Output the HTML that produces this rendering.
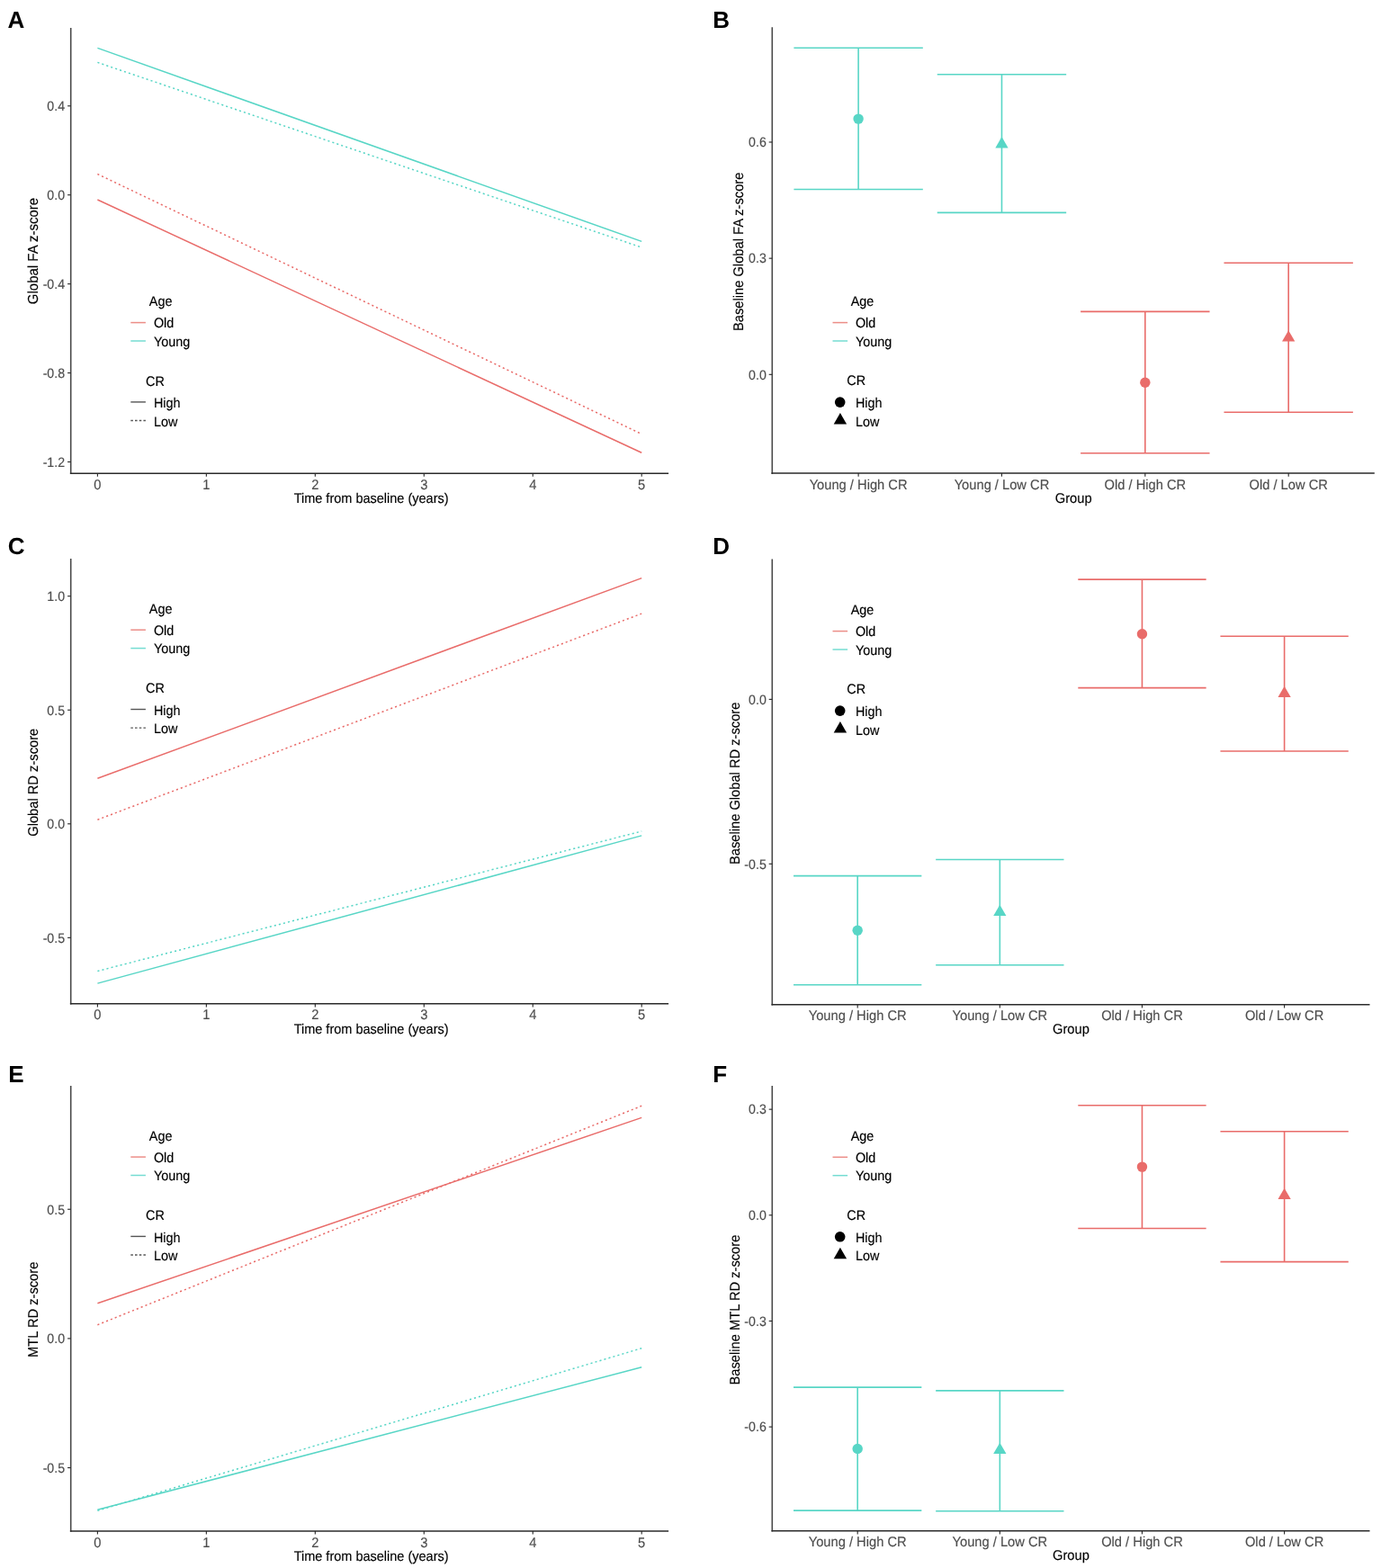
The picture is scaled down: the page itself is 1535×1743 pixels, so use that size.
<!DOCTYPE html>
<html><head><meta charset="utf-8"><title>Figure</title>
<style>
html,body{margin:0;padding:0;background:#fff;}
body{width:1535px;height:1743px;overflow:hidden;}
svg{display:block;}
text{font-family:'Liberation Sans', Arial, Helvetica, sans-serif;text-rendering:geometricPrecision;}
</style></head>
<body>
<svg width="1535" height="1743" viewBox="0 0 1535 1743">
<rect width="1535" height="1743" fill="#fff"/>
<text x="8.50" y="31.10" font-size="26" fill="#000" font-weight="bold">A</text>
<text x="792.30" y="30.90" font-size="26" fill="#000" font-weight="bold">B</text>
<text x="8.80" y="615.70" font-size="26" fill="#000" font-weight="bold">C</text>
<text x="792.30" y="615.60" font-size="26" fill="#000" font-weight="bold">D</text>
<text x="9.30" y="1203.30" font-size="26" fill="#000" font-weight="bold">E</text>
<text x="792.30" y="1202.80" font-size="26" fill="#000" font-weight="bold">F</text>
<line x1="78.70" y1="31.00" x2="78.70" y2="527.00" stroke="#4a4a4a" stroke-width="1.6" stroke-linecap="butt"/>
<line x1="77.90" y1="526.20" x2="743.10" y2="526.20" stroke="#2a2a2a" stroke-width="1.5" stroke-linecap="butt"/>
<line x1="75.10" y1="117.78" x2="78.70" y2="117.78" stroke="#262626" stroke-width="1.1" stroke-linecap="butt"/>
<text transform="translate(72.10 123.08) scale(1 1.06)" font-size="14.2" fill="#4d4d4d" stroke="#4d4d4d" stroke-width="0.15" text-anchor="end">0.4</text>
<line x1="75.10" y1="216.70" x2="78.70" y2="216.70" stroke="#262626" stroke-width="1.1" stroke-linecap="butt"/>
<text transform="translate(72.10 222.00) scale(1 1.06)" font-size="14.2" fill="#4d4d4d" stroke="#4d4d4d" stroke-width="0.15" text-anchor="end">0.0</text>
<line x1="75.10" y1="315.62" x2="78.70" y2="315.62" stroke="#262626" stroke-width="1.1" stroke-linecap="butt"/>
<text transform="translate(72.10 320.92) scale(1 1.06)" font-size="14.2" fill="#4d4d4d" stroke="#4d4d4d" stroke-width="0.15" text-anchor="end">-0.4</text>
<line x1="75.10" y1="414.54" x2="78.70" y2="414.54" stroke="#262626" stroke-width="1.1" stroke-linecap="butt"/>
<text transform="translate(72.10 419.84) scale(1 1.06)" font-size="14.2" fill="#4d4d4d" stroke="#4d4d4d" stroke-width="0.15" text-anchor="end">-0.8</text>
<line x1="75.10" y1="513.46" x2="78.70" y2="513.46" stroke="#262626" stroke-width="1.1" stroke-linecap="butt"/>
<text transform="translate(72.10 518.76) scale(1 1.06)" font-size="14.2" fill="#4d4d4d" stroke="#4d4d4d" stroke-width="0.15" text-anchor="end">-1.2</text>
<line x1="108.40" y1="526.20" x2="108.40" y2="529.80" stroke="#262626" stroke-width="1.1" stroke-linecap="butt"/>
<text transform="translate(108.40 543.80) scale(1 1.06)" font-size="14.7" fill="#4d4d4d" stroke="#4d4d4d" stroke-width="0.15" text-anchor="middle">0</text>
<line x1="229.36" y1="526.20" x2="229.36" y2="529.80" stroke="#262626" stroke-width="1.1" stroke-linecap="butt"/>
<text transform="translate(229.36 543.80) scale(1 1.06)" font-size="14.7" fill="#4d4d4d" stroke="#4d4d4d" stroke-width="0.15" text-anchor="middle">1</text>
<line x1="350.32" y1="526.20" x2="350.32" y2="529.80" stroke="#262626" stroke-width="1.1" stroke-linecap="butt"/>
<text transform="translate(350.32 543.80) scale(1 1.06)" font-size="14.7" fill="#4d4d4d" stroke="#4d4d4d" stroke-width="0.15" text-anchor="middle">2</text>
<line x1="471.28" y1="526.20" x2="471.28" y2="529.80" stroke="#262626" stroke-width="1.1" stroke-linecap="butt"/>
<text transform="translate(471.28 543.80) scale(1 1.06)" font-size="14.7" fill="#4d4d4d" stroke="#4d4d4d" stroke-width="0.15" text-anchor="middle">3</text>
<line x1="592.24" y1="526.20" x2="592.24" y2="529.80" stroke="#262626" stroke-width="1.1" stroke-linecap="butt"/>
<text transform="translate(592.24 543.80) scale(1 1.06)" font-size="14.7" fill="#4d4d4d" stroke="#4d4d4d" stroke-width="0.15" text-anchor="middle">4</text>
<line x1="713.20" y1="526.20" x2="713.20" y2="529.80" stroke="#262626" stroke-width="1.1" stroke-linecap="butt"/>
<text transform="translate(713.20 543.80) scale(1 1.06)" font-size="14.7" fill="#4d4d4d" stroke="#4d4d4d" stroke-width="0.15" text-anchor="middle">5</text>
<text transform="translate(412.60 559.00) scale(1 1.06)" font-size="14.5" fill="#000" stroke="#000" stroke-width="0.15" text-anchor="middle">Time from baseline (years)</text>
<text transform="translate(41.50 279.00) rotate(-90) scale(1 1.06)" font-size="15.0" fill="#000" stroke="#000" stroke-width="0.15" text-anchor="middle">Global FA z-score</text>
<line x1="108.40" y1="222.00" x2="713.20" y2="503.30" stroke="#e96c6a" stroke-width="1.5" stroke-linecap="butt"/>
<line x1="108.40" y1="193.50" x2="713.20" y2="482.50" stroke="#e96c6a" stroke-width="1.5" stroke-linecap="butt" stroke-dasharray="2.1 3.1"/>
<line x1="108.40" y1="53.40" x2="713.20" y2="268.40" stroke="#58d6c6" stroke-width="1.5" stroke-linecap="butt"/>
<line x1="108.40" y1="69.40" x2="713.20" y2="275.00" stroke="#58d6c6" stroke-width="1.5" stroke-linecap="butt" stroke-dasharray="2.1 3.1"/>
<text transform="translate(165.80 340.00) scale(1 1.06)" font-size="14.4" fill="#000" stroke="#000" stroke-width="0.15">Age</text>
<line x1="145.30" y1="358.60" x2="161.90" y2="358.60" stroke="#ec8e88" stroke-width="1.5" stroke-linecap="butt"/>
<line x1="145.30" y1="379.00" x2="161.90" y2="379.00" stroke="#74dcd2" stroke-width="1.5" stroke-linecap="butt"/>
<text transform="translate(170.90 364.20) scale(1 1.06)" font-size="14.4" fill="#000" stroke="#000" stroke-width="0.15">Old</text>
<text transform="translate(170.90 384.70) scale(1 1.06)" font-size="14.4" fill="#000" stroke="#000" stroke-width="0.15">Young</text>
<text transform="translate(162.10 428.70) scale(1 1.06)" font-size="14.4" fill="#000" stroke="#000" stroke-width="0.15">CR</text>
<line x1="145.30" y1="446.90" x2="161.90" y2="446.90" stroke="#555" stroke-width="1.4" stroke-linecap="butt"/>
<line x1="145.30" y1="467.50" x2="161.90" y2="467.50" stroke="#555" stroke-width="1.4" stroke-linecap="butt" stroke-dasharray="2.6 2.1"/>
<text transform="translate(170.90 453.10) scale(1 1.06)" font-size="14.4" fill="#000" stroke="#000" stroke-width="0.15">High</text>
<text transform="translate(170.90 473.70) scale(1 1.06)" font-size="14.4" fill="#000" stroke="#000" stroke-width="0.15">Low</text>
<line x1="78.70" y1="621.00" x2="78.70" y2="1116.60" stroke="#4a4a4a" stroke-width="1.6" stroke-linecap="butt"/>
<line x1="77.90" y1="1115.80" x2="743.10" y2="1115.80" stroke="#2a2a2a" stroke-width="1.5" stroke-linecap="butt"/>
<line x1="75.10" y1="662.70" x2="78.70" y2="662.70" stroke="#262626" stroke-width="1.1" stroke-linecap="butt"/>
<text transform="translate(72.10 668.00) scale(1 1.06)" font-size="14.2" fill="#4d4d4d" stroke="#4d4d4d" stroke-width="0.15" text-anchor="end">1.0</text>
<line x1="75.10" y1="789.25" x2="78.70" y2="789.25" stroke="#262626" stroke-width="1.1" stroke-linecap="butt"/>
<text transform="translate(72.10 794.55) scale(1 1.06)" font-size="14.2" fill="#4d4d4d" stroke="#4d4d4d" stroke-width="0.15" text-anchor="end">0.5</text>
<line x1="75.10" y1="915.80" x2="78.70" y2="915.80" stroke="#262626" stroke-width="1.1" stroke-linecap="butt"/>
<text transform="translate(72.10 921.10) scale(1 1.06)" font-size="14.2" fill="#4d4d4d" stroke="#4d4d4d" stroke-width="0.15" text-anchor="end">0.0</text>
<line x1="75.10" y1="1042.35" x2="78.70" y2="1042.35" stroke="#262626" stroke-width="1.1" stroke-linecap="butt"/>
<text transform="translate(72.10 1047.65) scale(1 1.06)" font-size="14.2" fill="#4d4d4d" stroke="#4d4d4d" stroke-width="0.15" text-anchor="end">-0.5</text>
<line x1="108.40" y1="1115.80" x2="108.40" y2="1119.40" stroke="#262626" stroke-width="1.1" stroke-linecap="butt"/>
<text transform="translate(108.40 1133.40) scale(1 1.06)" font-size="14.7" fill="#4d4d4d" stroke="#4d4d4d" stroke-width="0.15" text-anchor="middle">0</text>
<line x1="229.36" y1="1115.80" x2="229.36" y2="1119.40" stroke="#262626" stroke-width="1.1" stroke-linecap="butt"/>
<text transform="translate(229.36 1133.40) scale(1 1.06)" font-size="14.7" fill="#4d4d4d" stroke="#4d4d4d" stroke-width="0.15" text-anchor="middle">1</text>
<line x1="350.32" y1="1115.80" x2="350.32" y2="1119.40" stroke="#262626" stroke-width="1.1" stroke-linecap="butt"/>
<text transform="translate(350.32 1133.40) scale(1 1.06)" font-size="14.7" fill="#4d4d4d" stroke="#4d4d4d" stroke-width="0.15" text-anchor="middle">2</text>
<line x1="471.28" y1="1115.80" x2="471.28" y2="1119.40" stroke="#262626" stroke-width="1.1" stroke-linecap="butt"/>
<text transform="translate(471.28 1133.40) scale(1 1.06)" font-size="14.7" fill="#4d4d4d" stroke="#4d4d4d" stroke-width="0.15" text-anchor="middle">3</text>
<line x1="592.24" y1="1115.80" x2="592.24" y2="1119.40" stroke="#262626" stroke-width="1.1" stroke-linecap="butt"/>
<text transform="translate(592.24 1133.40) scale(1 1.06)" font-size="14.7" fill="#4d4d4d" stroke="#4d4d4d" stroke-width="0.15" text-anchor="middle">4</text>
<line x1="713.20" y1="1115.80" x2="713.20" y2="1119.40" stroke="#262626" stroke-width="1.1" stroke-linecap="butt"/>
<text transform="translate(713.20 1133.40) scale(1 1.06)" font-size="14.7" fill="#4d4d4d" stroke="#4d4d4d" stroke-width="0.15" text-anchor="middle">5</text>
<text transform="translate(412.60 1148.60) scale(1 1.06)" font-size="14.5" fill="#000" stroke="#000" stroke-width="0.15" text-anchor="middle">Time from baseline (years)</text>
<text transform="translate(41.50 869.80) rotate(-90) scale(1 1.06)" font-size="14.7" fill="#000" stroke="#000" stroke-width="0.15" text-anchor="middle">Global RD z-score</text>
<line x1="108.40" y1="865.30" x2="713.20" y2="642.60" stroke="#e96c6a" stroke-width="1.5" stroke-linecap="butt"/>
<line x1="108.40" y1="911.20" x2="713.20" y2="682.10" stroke="#e96c6a" stroke-width="1.5" stroke-linecap="butt" stroke-dasharray="2.1 3.1"/>
<line x1="108.40" y1="1093.10" x2="713.20" y2="928.90" stroke="#58d6c6" stroke-width="1.5" stroke-linecap="butt"/>
<line x1="108.40" y1="1079.50" x2="713.20" y2="924.00" stroke="#58d6c6" stroke-width="1.5" stroke-linecap="butt" stroke-dasharray="2.1 3.1"/>
<text transform="translate(165.80 681.60) scale(1 1.06)" font-size="14.4" fill="#000" stroke="#000" stroke-width="0.15">Age</text>
<line x1="145.30" y1="700.20" x2="161.90" y2="700.20" stroke="#ec8e88" stroke-width="1.5" stroke-linecap="butt"/>
<line x1="145.30" y1="720.60" x2="161.90" y2="720.60" stroke="#74dcd2" stroke-width="1.5" stroke-linecap="butt"/>
<text transform="translate(170.90 705.80) scale(1 1.06)" font-size="14.4" fill="#000" stroke="#000" stroke-width="0.15">Old</text>
<text transform="translate(170.90 726.30) scale(1 1.06)" font-size="14.4" fill="#000" stroke="#000" stroke-width="0.15">Young</text>
<text transform="translate(162.10 770.30) scale(1 1.06)" font-size="14.4" fill="#000" stroke="#000" stroke-width="0.15">CR</text>
<line x1="145.30" y1="788.50" x2="161.90" y2="788.50" stroke="#555" stroke-width="1.4" stroke-linecap="butt"/>
<line x1="145.30" y1="809.10" x2="161.90" y2="809.10" stroke="#555" stroke-width="1.4" stroke-linecap="butt" stroke-dasharray="2.6 2.1"/>
<text transform="translate(170.90 794.70) scale(1 1.06)" font-size="14.4" fill="#000" stroke="#000" stroke-width="0.15">High</text>
<text transform="translate(170.90 815.30) scale(1 1.06)" font-size="14.4" fill="#000" stroke="#000" stroke-width="0.15">Low</text>
<line x1="78.70" y1="1206.90" x2="78.70" y2="1702.80" stroke="#4a4a4a" stroke-width="1.6" stroke-linecap="butt"/>
<line x1="77.90" y1="1702.00" x2="743.10" y2="1702.00" stroke="#2a2a2a" stroke-width="1.5" stroke-linecap="butt"/>
<line x1="75.10" y1="1344.25" x2="78.70" y2="1344.25" stroke="#262626" stroke-width="1.1" stroke-linecap="butt"/>
<text transform="translate(72.10 1349.55) scale(1 1.06)" font-size="14.2" fill="#4d4d4d" stroke="#4d4d4d" stroke-width="0.15" text-anchor="end">0.5</text>
<line x1="75.10" y1="1487.90" x2="78.70" y2="1487.90" stroke="#262626" stroke-width="1.1" stroke-linecap="butt"/>
<text transform="translate(72.10 1493.20) scale(1 1.06)" font-size="14.2" fill="#4d4d4d" stroke="#4d4d4d" stroke-width="0.15" text-anchor="end">0.0</text>
<line x1="75.10" y1="1631.55" x2="78.70" y2="1631.55" stroke="#262626" stroke-width="1.1" stroke-linecap="butt"/>
<text transform="translate(72.10 1636.85) scale(1 1.06)" font-size="14.2" fill="#4d4d4d" stroke="#4d4d4d" stroke-width="0.15" text-anchor="end">-0.5</text>
<line x1="108.40" y1="1702.00" x2="108.40" y2="1705.60" stroke="#262626" stroke-width="1.1" stroke-linecap="butt"/>
<text transform="translate(108.40 1719.60) scale(1 1.06)" font-size="14.7" fill="#4d4d4d" stroke="#4d4d4d" stroke-width="0.15" text-anchor="middle">0</text>
<line x1="229.36" y1="1702.00" x2="229.36" y2="1705.60" stroke="#262626" stroke-width="1.1" stroke-linecap="butt"/>
<text transform="translate(229.36 1719.60) scale(1 1.06)" font-size="14.7" fill="#4d4d4d" stroke="#4d4d4d" stroke-width="0.15" text-anchor="middle">1</text>
<line x1="350.32" y1="1702.00" x2="350.32" y2="1705.60" stroke="#262626" stroke-width="1.1" stroke-linecap="butt"/>
<text transform="translate(350.32 1719.60) scale(1 1.06)" font-size="14.7" fill="#4d4d4d" stroke="#4d4d4d" stroke-width="0.15" text-anchor="middle">2</text>
<line x1="471.28" y1="1702.00" x2="471.28" y2="1705.60" stroke="#262626" stroke-width="1.1" stroke-linecap="butt"/>
<text transform="translate(471.28 1719.60) scale(1 1.06)" font-size="14.7" fill="#4d4d4d" stroke="#4d4d4d" stroke-width="0.15" text-anchor="middle">3</text>
<line x1="592.24" y1="1702.00" x2="592.24" y2="1705.60" stroke="#262626" stroke-width="1.1" stroke-linecap="butt"/>
<text transform="translate(592.24 1719.60) scale(1 1.06)" font-size="14.7" fill="#4d4d4d" stroke="#4d4d4d" stroke-width="0.15" text-anchor="middle">4</text>
<line x1="713.20" y1="1702.00" x2="713.20" y2="1705.60" stroke="#262626" stroke-width="1.1" stroke-linecap="butt"/>
<text transform="translate(713.20 1719.60) scale(1 1.06)" font-size="14.7" fill="#4d4d4d" stroke="#4d4d4d" stroke-width="0.15" text-anchor="middle">5</text>
<text transform="translate(412.60 1734.80) scale(1 1.06)" font-size="14.5" fill="#000" stroke="#000" stroke-width="0.15" text-anchor="middle">Time from baseline (years)</text>
<text transform="translate(41.50 1455.85) rotate(-90) scale(1 1.06)" font-size="14.7" fill="#000" stroke="#000" stroke-width="0.15" text-anchor="middle">MTL RD z-score</text>
<line x1="108.40" y1="1448.80" x2="713.20" y2="1242.40" stroke="#e96c6a" stroke-width="1.5" stroke-linecap="butt"/>
<line x1="108.40" y1="1472.70" x2="713.20" y2="1229.30" stroke="#e96c6a" stroke-width="1.5" stroke-linecap="butt" stroke-dasharray="2.1 3.1"/>
<line x1="108.40" y1="1678.30" x2="713.20" y2="1519.80" stroke="#58d6c6" stroke-width="1.5" stroke-linecap="butt"/>
<line x1="108.40" y1="1679.30" x2="713.20" y2="1498.70" stroke="#58d6c6" stroke-width="1.5" stroke-linecap="butt" stroke-dasharray="2.1 3.1"/>
<text transform="translate(165.80 1267.50) scale(1 1.06)" font-size="14.4" fill="#000" stroke="#000" stroke-width="0.15">Age</text>
<line x1="145.30" y1="1286.10" x2="161.90" y2="1286.10" stroke="#ec8e88" stroke-width="1.5" stroke-linecap="butt"/>
<line x1="145.30" y1="1306.50" x2="161.90" y2="1306.50" stroke="#74dcd2" stroke-width="1.5" stroke-linecap="butt"/>
<text transform="translate(170.90 1291.70) scale(1 1.06)" font-size="14.4" fill="#000" stroke="#000" stroke-width="0.15">Old</text>
<text transform="translate(170.90 1312.20) scale(1 1.06)" font-size="14.4" fill="#000" stroke="#000" stroke-width="0.15">Young</text>
<text transform="translate(162.10 1356.20) scale(1 1.06)" font-size="14.4" fill="#000" stroke="#000" stroke-width="0.15">CR</text>
<line x1="145.30" y1="1374.40" x2="161.90" y2="1374.40" stroke="#555" stroke-width="1.4" stroke-linecap="butt"/>
<line x1="145.30" y1="1395.00" x2="161.90" y2="1395.00" stroke="#555" stroke-width="1.4" stroke-linecap="butt" stroke-dasharray="2.6 2.1"/>
<text transform="translate(170.90 1380.60) scale(1 1.06)" font-size="14.4" fill="#000" stroke="#000" stroke-width="0.15">High</text>
<text transform="translate(170.90 1401.20) scale(1 1.06)" font-size="14.4" fill="#000" stroke="#000" stroke-width="0.15">Low</text>
<line x1="858.30" y1="30.30" x2="858.30" y2="526.90" stroke="#4a4a4a" stroke-width="1.6" stroke-linecap="butt"/>
<line x1="857.50" y1="526.10" x2="1527.80" y2="526.10" stroke="#2a2a2a" stroke-width="1.5" stroke-linecap="butt"/>
<line x1="854.70" y1="158.00" x2="858.30" y2="158.00" stroke="#262626" stroke-width="1.1" stroke-linecap="butt"/>
<text transform="translate(851.80 163.30) scale(1 1.06)" font-size="14.2" fill="#4d4d4d" stroke="#4d4d4d" stroke-width="0.15" text-anchor="end">0.6</text>
<line x1="854.70" y1="287.15" x2="858.30" y2="287.15" stroke="#262626" stroke-width="1.1" stroke-linecap="butt"/>
<text transform="translate(851.80 292.45) scale(1 1.06)" font-size="14.2" fill="#4d4d4d" stroke="#4d4d4d" stroke-width="0.15" text-anchor="end">0.3</text>
<line x1="854.70" y1="416.30" x2="858.30" y2="416.30" stroke="#262626" stroke-width="1.1" stroke-linecap="butt"/>
<text transform="translate(851.80 421.60) scale(1 1.06)" font-size="14.2" fill="#4d4d4d" stroke="#4d4d4d" stroke-width="0.15" text-anchor="end">0.0</text>
<line x1="954.11" y1="526.10" x2="954.11" y2="529.70" stroke="#262626" stroke-width="1.1" stroke-linecap="butt"/>
<text transform="translate(954.11 543.70) scale(1 1.06)" font-size="14.7" fill="#4d4d4d" stroke="#4d4d4d" stroke-width="0.15" text-anchor="middle">Young / High CR</text>
<line x1="1113.47" y1="526.10" x2="1113.47" y2="529.70" stroke="#262626" stroke-width="1.1" stroke-linecap="butt"/>
<text transform="translate(1113.47 543.70) scale(1 1.06)" font-size="14.7" fill="#4d4d4d" stroke="#4d4d4d" stroke-width="0.15" text-anchor="middle">Young / Low CR</text>
<line x1="1272.83" y1="526.10" x2="1272.83" y2="529.70" stroke="#262626" stroke-width="1.1" stroke-linecap="butt"/>
<text transform="translate(1272.83 543.70) scale(1 1.06)" font-size="14.7" fill="#4d4d4d" stroke="#4d4d4d" stroke-width="0.15" text-anchor="middle">Old / High CR</text>
<line x1="1432.19" y1="526.10" x2="1432.19" y2="529.70" stroke="#262626" stroke-width="1.1" stroke-linecap="butt"/>
<text transform="translate(1432.19 543.70) scale(1 1.06)" font-size="14.7" fill="#4d4d4d" stroke="#4d4d4d" stroke-width="0.15" text-anchor="middle">Old / Low CR</text>
<text transform="translate(1193.15 558.60) scale(1 1.06)" font-size="14.7" fill="#000" stroke="#000" stroke-width="0.15" text-anchor="middle">Group</text>
<text transform="translate(825.80 279.80) rotate(-90) scale(1 1.06)" font-size="14.7" fill="#000" stroke="#000" stroke-width="0.15" text-anchor="middle">Baseline Global FA z-score</text>
<line x1="954.11" y1="53.20" x2="954.11" y2="210.50" stroke="#58d6c6" stroke-width="1.6" stroke-linecap="butt"/>
<line x1="882.40" y1="53.20" x2="1025.82" y2="53.20" stroke="#58d6c6" stroke-width="1.6" stroke-linecap="butt"/>
<line x1="882.40" y1="210.50" x2="1025.82" y2="210.50" stroke="#58d6c6" stroke-width="1.6" stroke-linecap="butt"/>
<circle cx="954.11" cy="132.10" r="5.7" fill="#58d6c6"/>
<line x1="1113.47" y1="82.70" x2="1113.47" y2="236.40" stroke="#58d6c6" stroke-width="1.6" stroke-linecap="butt"/>
<line x1="1041.76" y1="82.70" x2="1185.18" y2="82.70" stroke="#58d6c6" stroke-width="1.6" stroke-linecap="butt"/>
<line x1="1041.76" y1="236.40" x2="1185.18" y2="236.40" stroke="#58d6c6" stroke-width="1.6" stroke-linecap="butt"/>
<polygon points="1113.47,152.05 1120.62,164.43 1106.33,164.43" fill="#58d6c6"/>
<line x1="1272.83" y1="346.40" x2="1272.83" y2="503.70" stroke="#e96c6a" stroke-width="1.6" stroke-linecap="butt"/>
<line x1="1201.12" y1="346.40" x2="1344.54" y2="346.40" stroke="#e96c6a" stroke-width="1.6" stroke-linecap="butt"/>
<line x1="1201.12" y1="503.70" x2="1344.54" y2="503.70" stroke="#e96c6a" stroke-width="1.6" stroke-linecap="butt"/>
<circle cx="1272.83" cy="425.20" r="5.7" fill="#e96c6a"/>
<line x1="1432.19" y1="292.20" x2="1432.19" y2="458.30" stroke="#e96c6a" stroke-width="1.6" stroke-linecap="butt"/>
<line x1="1360.48" y1="292.20" x2="1503.90" y2="292.20" stroke="#e96c6a" stroke-width="1.6" stroke-linecap="butt"/>
<line x1="1360.48" y1="458.30" x2="1503.90" y2="458.30" stroke="#e96c6a" stroke-width="1.6" stroke-linecap="butt"/>
<polygon points="1432.19,367.25 1439.33,379.62 1425.04,379.62" fill="#e96c6a"/>
<text transform="translate(945.70 340.00) scale(1 1.06)" font-size="14.4" fill="#000" stroke="#000" stroke-width="0.15">Age</text>
<line x1="925.50" y1="358.60" x2="942.10" y2="358.60" stroke="#ec8e88" stroke-width="1.5" stroke-linecap="butt"/>
<line x1="925.50" y1="379.00" x2="942.10" y2="379.00" stroke="#74dcd2" stroke-width="1.5" stroke-linecap="butt"/>
<text transform="translate(950.90 364.20) scale(1 1.06)" font-size="14.4" fill="#000" stroke="#000" stroke-width="0.15">Old</text>
<text transform="translate(950.90 384.70) scale(1 1.06)" font-size="14.4" fill="#000" stroke="#000" stroke-width="0.15">Young</text>
<text transform="translate(941.30 428.20) scale(1 1.06)" font-size="14.4" fill="#000" stroke="#000" stroke-width="0.15">CR</text>
<circle cx="933.70" cy="447.10" r="5.8" fill="#000"/>
<polygon points="933.90,459.10 941.09,471.55 926.71,471.55" fill="#000"/>
<text transform="translate(950.90 453.10) scale(1 1.06)" font-size="14.4" fill="#000" stroke="#000" stroke-width="0.15">High</text>
<text transform="translate(950.90 473.70) scale(1 1.06)" font-size="14.4" fill="#000" stroke="#000" stroke-width="0.15">Low</text>
<line x1="858.30" y1="621.60" x2="858.30" y2="1117.60" stroke="#4a4a4a" stroke-width="1.6" stroke-linecap="butt"/>
<line x1="857.50" y1="1116.80" x2="1522.50" y2="1116.80" stroke="#2a2a2a" stroke-width="1.5" stroke-linecap="butt"/>
<line x1="854.70" y1="777.40" x2="858.30" y2="777.40" stroke="#262626" stroke-width="1.1" stroke-linecap="butt"/>
<text transform="translate(851.80 782.70) scale(1 1.06)" font-size="14.2" fill="#4d4d4d" stroke="#4d4d4d" stroke-width="0.15" text-anchor="end">0.0</text>
<line x1="854.70" y1="960.30" x2="858.30" y2="960.30" stroke="#262626" stroke-width="1.1" stroke-linecap="butt"/>
<text transform="translate(851.80 965.60) scale(1 1.06)" font-size="14.2" fill="#4d4d4d" stroke="#4d4d4d" stroke-width="0.15" text-anchor="end">-0.5</text>
<line x1="953.19" y1="1116.80" x2="953.19" y2="1120.40" stroke="#262626" stroke-width="1.1" stroke-linecap="butt"/>
<text transform="translate(953.19 1134.40) scale(1 1.06)" font-size="14.7" fill="#4d4d4d" stroke="#4d4d4d" stroke-width="0.15" text-anchor="middle">Young / High CR</text>
<line x1="1111.33" y1="1116.80" x2="1111.33" y2="1120.40" stroke="#262626" stroke-width="1.1" stroke-linecap="butt"/>
<text transform="translate(1111.33 1134.40) scale(1 1.06)" font-size="14.7" fill="#4d4d4d" stroke="#4d4d4d" stroke-width="0.15" text-anchor="middle">Young / Low CR</text>
<line x1="1269.47" y1="1116.80" x2="1269.47" y2="1120.40" stroke="#262626" stroke-width="1.1" stroke-linecap="butt"/>
<text transform="translate(1269.47 1134.40) scale(1 1.06)" font-size="14.7" fill="#4d4d4d" stroke="#4d4d4d" stroke-width="0.15" text-anchor="middle">Old / High CR</text>
<line x1="1427.61" y1="1116.80" x2="1427.61" y2="1120.40" stroke="#262626" stroke-width="1.1" stroke-linecap="butt"/>
<text transform="translate(1427.61 1134.40) scale(1 1.06)" font-size="14.7" fill="#4d4d4d" stroke="#4d4d4d" stroke-width="0.15" text-anchor="middle">Old / Low CR</text>
<text transform="translate(1190.40 1149.30) scale(1 1.06)" font-size="14.7" fill="#000" stroke="#000" stroke-width="0.15" text-anchor="middle">Group</text>
<text transform="translate(822.00 870.80) rotate(-90) scale(1 1.06)" font-size="14.7" fill="#000" stroke="#000" stroke-width="0.15" text-anchor="middle">Baseline Global RD z-score</text>
<line x1="953.19" y1="973.60" x2="953.19" y2="1094.70" stroke="#58d6c6" stroke-width="1.6" stroke-linecap="butt"/>
<line x1="882.02" y1="973.60" x2="1024.35" y2="973.60" stroke="#58d6c6" stroke-width="1.6" stroke-linecap="butt"/>
<line x1="882.02" y1="1094.70" x2="1024.35" y2="1094.70" stroke="#58d6c6" stroke-width="1.6" stroke-linecap="butt"/>
<circle cx="953.19" cy="1034.20" r="5.7" fill="#58d6c6"/>
<line x1="1111.33" y1="955.50" x2="1111.33" y2="1072.80" stroke="#58d6c6" stroke-width="1.6" stroke-linecap="butt"/>
<line x1="1040.16" y1="955.50" x2="1182.49" y2="955.50" stroke="#58d6c6" stroke-width="1.6" stroke-linecap="butt"/>
<line x1="1040.16" y1="1072.80" x2="1182.49" y2="1072.80" stroke="#58d6c6" stroke-width="1.6" stroke-linecap="butt"/>
<polygon points="1111.33,1005.75 1118.47,1018.12 1104.18,1018.12" fill="#58d6c6"/>
<line x1="1269.47" y1="644.10" x2="1269.47" y2="764.60" stroke="#e96c6a" stroke-width="1.6" stroke-linecap="butt"/>
<line x1="1198.31" y1="644.10" x2="1340.64" y2="644.10" stroke="#e96c6a" stroke-width="1.6" stroke-linecap="butt"/>
<line x1="1198.31" y1="764.60" x2="1340.64" y2="764.60" stroke="#e96c6a" stroke-width="1.6" stroke-linecap="butt"/>
<circle cx="1269.47" cy="704.70" r="5.7" fill="#e96c6a"/>
<line x1="1427.61" y1="707.30" x2="1427.61" y2="835.00" stroke="#e96c6a" stroke-width="1.6" stroke-linecap="butt"/>
<line x1="1356.45" y1="707.30" x2="1498.78" y2="707.30" stroke="#e96c6a" stroke-width="1.6" stroke-linecap="butt"/>
<line x1="1356.45" y1="835.00" x2="1498.78" y2="835.00" stroke="#e96c6a" stroke-width="1.6" stroke-linecap="butt"/>
<polygon points="1427.61,762.75 1434.76,775.12 1420.47,775.12" fill="#e96c6a"/>
<text transform="translate(945.70 683.00) scale(1 1.06)" font-size="14.4" fill="#000" stroke="#000" stroke-width="0.15">Age</text>
<line x1="925.50" y1="701.60" x2="942.10" y2="701.60" stroke="#ec8e88" stroke-width="1.5" stroke-linecap="butt"/>
<line x1="925.50" y1="722.00" x2="942.10" y2="722.00" stroke="#74dcd2" stroke-width="1.5" stroke-linecap="butt"/>
<text transform="translate(950.90 707.20) scale(1 1.06)" font-size="14.4" fill="#000" stroke="#000" stroke-width="0.15">Old</text>
<text transform="translate(950.90 727.70) scale(1 1.06)" font-size="14.4" fill="#000" stroke="#000" stroke-width="0.15">Young</text>
<text transform="translate(941.30 771.20) scale(1 1.06)" font-size="14.4" fill="#000" stroke="#000" stroke-width="0.15">CR</text>
<circle cx="933.70" cy="790.10" r="5.8" fill="#000"/>
<polygon points="933.90,802.10 941.09,814.55 926.71,814.55" fill="#000"/>
<text transform="translate(950.90 796.10) scale(1 1.06)" font-size="14.4" fill="#000" stroke="#000" stroke-width="0.15">High</text>
<text transform="translate(950.90 816.70) scale(1 1.06)" font-size="14.4" fill="#000" stroke="#000" stroke-width="0.15">Low</text>
<line x1="858.30" y1="1207.10" x2="858.30" y2="1702.60" stroke="#4a4a4a" stroke-width="1.6" stroke-linecap="butt"/>
<line x1="857.50" y1="1701.80" x2="1522.50" y2="1701.80" stroke="#2a2a2a" stroke-width="1.5" stroke-linecap="butt"/>
<line x1="854.70" y1="1233.14" x2="858.30" y2="1233.14" stroke="#262626" stroke-width="1.1" stroke-linecap="butt"/>
<text transform="translate(851.80 1238.44) scale(1 1.06)" font-size="14.2" fill="#4d4d4d" stroke="#4d4d4d" stroke-width="0.15" text-anchor="end">0.3</text>
<line x1="854.70" y1="1350.80" x2="858.30" y2="1350.80" stroke="#262626" stroke-width="1.1" stroke-linecap="butt"/>
<text transform="translate(851.80 1356.10) scale(1 1.06)" font-size="14.2" fill="#4d4d4d" stroke="#4d4d4d" stroke-width="0.15" text-anchor="end">0.0</text>
<line x1="854.70" y1="1468.46" x2="858.30" y2="1468.46" stroke="#262626" stroke-width="1.1" stroke-linecap="butt"/>
<text transform="translate(851.80 1473.76) scale(1 1.06)" font-size="14.2" fill="#4d4d4d" stroke="#4d4d4d" stroke-width="0.15" text-anchor="end">-0.3</text>
<line x1="854.70" y1="1586.12" x2="858.30" y2="1586.12" stroke="#262626" stroke-width="1.1" stroke-linecap="butt"/>
<text transform="translate(851.80 1591.42) scale(1 1.06)" font-size="14.2" fill="#4d4d4d" stroke="#4d4d4d" stroke-width="0.15" text-anchor="end">-0.6</text>
<line x1="953.19" y1="1701.80" x2="953.19" y2="1705.40" stroke="#262626" stroke-width="1.1" stroke-linecap="butt"/>
<text transform="translate(953.19 1719.40) scale(1 1.06)" font-size="14.7" fill="#4d4d4d" stroke="#4d4d4d" stroke-width="0.15" text-anchor="middle">Young / High CR</text>
<line x1="1111.33" y1="1701.80" x2="1111.33" y2="1705.40" stroke="#262626" stroke-width="1.1" stroke-linecap="butt"/>
<text transform="translate(1111.33 1719.40) scale(1 1.06)" font-size="14.7" fill="#4d4d4d" stroke="#4d4d4d" stroke-width="0.15" text-anchor="middle">Young / Low CR</text>
<line x1="1269.47" y1="1701.80" x2="1269.47" y2="1705.40" stroke="#262626" stroke-width="1.1" stroke-linecap="butt"/>
<text transform="translate(1269.47 1719.40) scale(1 1.06)" font-size="14.7" fill="#4d4d4d" stroke="#4d4d4d" stroke-width="0.15" text-anchor="middle">Old / High CR</text>
<line x1="1427.61" y1="1701.80" x2="1427.61" y2="1705.40" stroke="#262626" stroke-width="1.1" stroke-linecap="butt"/>
<text transform="translate(1427.61 1719.40) scale(1 1.06)" font-size="14.7" fill="#4d4d4d" stroke="#4d4d4d" stroke-width="0.15" text-anchor="middle">Old / Low CR</text>
<text transform="translate(1190.40 1734.30) scale(1 1.06)" font-size="14.7" fill="#000" stroke="#000" stroke-width="0.15" text-anchor="middle">Group</text>
<text transform="translate(822.00 1456.05) rotate(-90) scale(1 1.06)" font-size="14.7" fill="#000" stroke="#000" stroke-width="0.15" text-anchor="middle">Baseline MTL RD z-score</text>
<line x1="953.19" y1="1542.10" x2="953.19" y2="1679.10" stroke="#58d6c6" stroke-width="1.6" stroke-linecap="butt"/>
<line x1="882.02" y1="1542.10" x2="1024.35" y2="1542.10" stroke="#58d6c6" stroke-width="1.6" stroke-linecap="butt"/>
<line x1="882.02" y1="1679.10" x2="1024.35" y2="1679.10" stroke="#58d6c6" stroke-width="1.6" stroke-linecap="butt"/>
<circle cx="953.19" cy="1610.50" r="5.7" fill="#58d6c6"/>
<line x1="1111.33" y1="1545.90" x2="1111.33" y2="1679.70" stroke="#58d6c6" stroke-width="1.6" stroke-linecap="butt"/>
<line x1="1040.16" y1="1545.90" x2="1182.49" y2="1545.90" stroke="#58d6c6" stroke-width="1.6" stroke-linecap="butt"/>
<line x1="1040.16" y1="1679.70" x2="1182.49" y2="1679.70" stroke="#58d6c6" stroke-width="1.6" stroke-linecap="butt"/>
<polygon points="1111.33,1603.75 1118.47,1616.12 1104.18,1616.12" fill="#58d6c6"/>
<line x1="1269.47" y1="1228.70" x2="1269.47" y2="1365.50" stroke="#e96c6a" stroke-width="1.6" stroke-linecap="butt"/>
<line x1="1198.31" y1="1228.70" x2="1340.64" y2="1228.70" stroke="#e96c6a" stroke-width="1.6" stroke-linecap="butt"/>
<line x1="1198.31" y1="1365.50" x2="1340.64" y2="1365.50" stroke="#e96c6a" stroke-width="1.6" stroke-linecap="butt"/>
<circle cx="1269.47" cy="1297.10" r="5.7" fill="#e96c6a"/>
<line x1="1427.61" y1="1257.70" x2="1427.61" y2="1402.60" stroke="#e96c6a" stroke-width="1.6" stroke-linecap="butt"/>
<line x1="1356.45" y1="1257.70" x2="1498.78" y2="1257.70" stroke="#e96c6a" stroke-width="1.6" stroke-linecap="butt"/>
<line x1="1356.45" y1="1402.60" x2="1498.78" y2="1402.60" stroke="#e96c6a" stroke-width="1.6" stroke-linecap="butt"/>
<polygon points="1427.61,1320.75 1434.76,1333.12 1420.47,1333.12" fill="#e96c6a"/>
<text transform="translate(945.70 1267.70) scale(1 1.06)" font-size="14.4" fill="#000" stroke="#000" stroke-width="0.15">Age</text>
<line x1="925.50" y1="1286.30" x2="942.10" y2="1286.30" stroke="#ec8e88" stroke-width="1.5" stroke-linecap="butt"/>
<line x1="925.50" y1="1306.70" x2="942.10" y2="1306.70" stroke="#74dcd2" stroke-width="1.5" stroke-linecap="butt"/>
<text transform="translate(950.90 1291.90) scale(1 1.06)" font-size="14.4" fill="#000" stroke="#000" stroke-width="0.15">Old</text>
<text transform="translate(950.90 1312.40) scale(1 1.06)" font-size="14.4" fill="#000" stroke="#000" stroke-width="0.15">Young</text>
<text transform="translate(941.30 1355.90) scale(1 1.06)" font-size="14.4" fill="#000" stroke="#000" stroke-width="0.15">CR</text>
<circle cx="933.70" cy="1374.80" r="5.8" fill="#000"/>
<polygon points="933.90,1386.80 941.09,1399.25 926.71,1399.25" fill="#000"/>
<text transform="translate(950.90 1380.80) scale(1 1.06)" font-size="14.4" fill="#000" stroke="#000" stroke-width="0.15">High</text>
<text transform="translate(950.90 1401.40) scale(1 1.06)" font-size="14.4" fill="#000" stroke="#000" stroke-width="0.15">Low</text>
</svg>
</body></html>
